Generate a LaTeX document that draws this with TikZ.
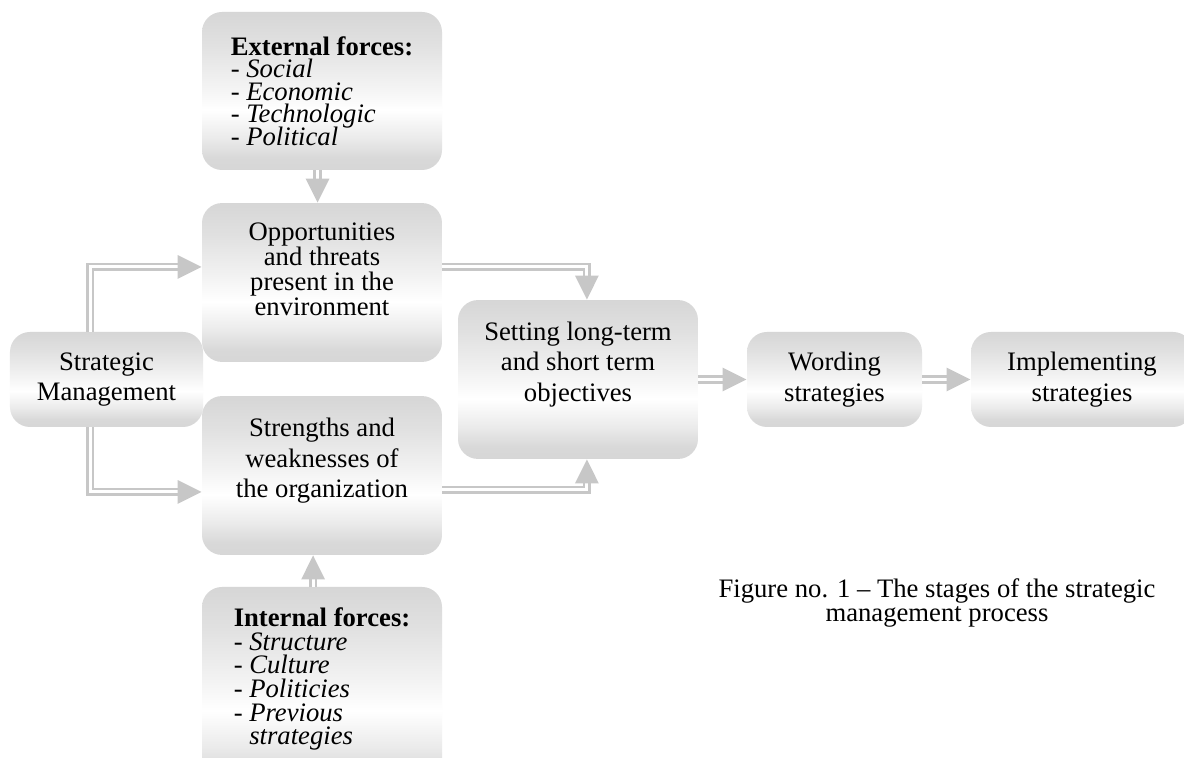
\documentclass[tikz,border=0pt]{standalone}
\usepackage{fontspec}
\setmainfont{Liberation Serif}
\usetikzlibrary{arrows.meta, positioning}
\pgfdeclareverticalshading{stageshade}{100bp}{color(0bp)=(black!16); color(25bp)=(black!16); color(29bp)=(black!15); color(35bp)=(black!8); color(44bp)=(white); color(52bp)=(black!5); color(65bp)=(black!12); color(75bp)=(black!16); color(100bp)=(black!16)}
\newcommand\tightlines[1]{\fontsize{12pt}{#1}\selectfont\lineskiplimit=-20pt}
\tikzset{
  stage/.style={rectangle, rounded corners=9pt, shading=stageshade, inner sep=0pt, align=center},
  wide/.style={stage, minimum width=108pt, minimum height=71.5pt},
  small/.style={stage, minimum height=42.75pt},
  boxtext/.style={inner sep=0pt, align=center},
  flow/.style={draw=black!22, line width=1.2pt, double=white, double distance=1.3pt, -{Triangle[length=10.8pt, width=10.4pt]}},
}
\begin{document}
\begin{tikzpicture}[x=0.45pt, y=-0.45pt, font=\tightlines{13.8pt}]
\useasboundingbox (0,0) rectangle (1184,758);
\fill[white] (0,0) rectangle (1184,758);
\clip (0,0) rectangle (1184,758);
\node[wide, minimum height=71.1pt, align=left, font=\tightlines{10.1pt}] (ext) at (322,91) {\textbf{External forces:}\\- \textit{Social}\\- \textit{Economic}\\- \textit{Technologic}\\- \textit{Political}};
\node[wide] (opp) at (322,282.5) {};
\node[boxtext, below=8.9pt of opp.north, font=\tightlines{11.25pt}] (opptext) {Opportunities\\and threats\\present in the\\environment};
\node[small, minimum width=86.85pt] (sm) at (106.5,379.5) {Strategic\\Management};
\node[wide] (str) at (322,475.5) {};
\node[boxtext, below=9.9pt of str.north] (strtext) {Strengths and\\weaknesses of\\the organization};
\node[wide, minimum height=90pt] (int) at (322,687) {};
\node[boxtext, align=left, below=9.5pt of int.north, font=\tightlines{10.6pt}] (inttext) {\textbf{Internal forces:}\\- \textit{Structure}\\- \textit{Culture}\\- \textit{Politicies}\\- \textit{Previous}\\\hphantom{- }\textit{strategies}};
\node[wide] (set) at (578,379.5) {};
\node[boxtext, below=9.8pt of set.north] (settext) {Setting long-term\\and short term\\objectives};
\node[small, minimum width=78.75pt] (word) at (834.5,379.5) {Wording\\strategies};
\node[small, minimum width=99.9pt] (impl) at (1082,379.5) {Implementing\\strategies};
\node[boxtext, font=\tightlines{10.4pt}] (caption) at (937,603) {Figure no. 1 – The stages of the strategic\\management process};
\draw[flow] ([xshift=-2pt]ext.south) -- ([xshift=-2pt]opp.north);
\draw[flow] ([xshift=-7.4pt]sm.north) |- ([yshift=7pt]opp.west);
\draw[flow] ([xshift=-7.4pt]sm.south) |- ([yshift=-7.4pt]str.west);
\draw[flow] ([yshift=7pt]opp.east) -| ([xshift=4pt]set.north);
\draw[flow] ([yshift=-6.5pt]str.east) -| ([xshift=4pt]set.south);
\draw[flow] ([xshift=-4pt]int.north) -- ([xshift=-4pt]str.south);
\draw[flow] (set.east) -- (word.west);
\draw[flow] (word.east) -- (impl.west);
\end{tikzpicture}
\end{document}
